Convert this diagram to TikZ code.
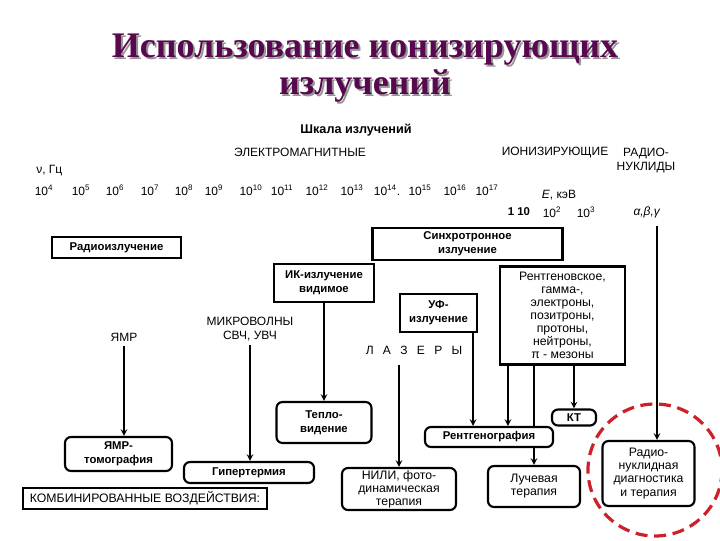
\documentclass[tikz,border=0pt]{standalone}
\usepackage{fontspec}
\setmainfont{Liberation Sans}
\newfontfamily\titlefont{Liberation Serif}
\usepackage{tikz}
\usetikzlibrary{arrows,shapes,positioning,calc,backgrounds}
\usepackage{xcolor}
\definecolor{ttlpurple}{RGB}{88,8,78}
\definecolor{ttlshade}{RGB}{150,150,150}
\definecolor{ringred}{RGB}{205,32,42}
\newcommand{\lblfont}{\fontsize{9}{10.5}\selectfont}
\newcommand{\boxfont}{\fontsize{8.5}{10.5}\selectfont\bfseries}
\newcommand{\plainboxfont}{\fontsize{9.2}{9.8}\selectfont}
\tikzstyle{ttl} = [font=\titlefont\bfseries\fontsize{27}{30}\selectfont, text=ttlpurple, anchor=base, inner sep=0pt]
\tikzstyle{lbl} = [inner sep=0pt, align=center, font=\lblfont]
\tikzstyle{sqbox} = [rectangle, draw, line width=1.6pt, fill=white, align=center, inner sep=0pt, font=\boxfont]
\tikzstyle{rbox} = [sqbox, rounded corners=4.5pt]
\tikzstyle{arrow} = [line width=1.2pt,->,>=stealth]

\begin{document}
\begin{tikzpicture}[x=0.75pt,y=-0.75pt]
\useasboundingbox (0,0) rectangle (720,540);
% Title with shadow
\node[ttl, text=ttlshade] (t1s) at (367,59) {Использование ионизирующих};
\node[ttl, text=ttlshade] (t2s) at (367,96) {излучений};
\node[ttl] (t1) at (365,57) {Использование ионизирующих};
\node[ttl] (t2) at (365,94) {излучений};

% Scale
\node[lbl, font=\fontsize{9.5}{11}\selectfont\bfseries] (scale) at (356,130) {Шкала излучений};
\node[lbl] (em) at (300,152) {ЭЛЕКТРОМАГНИТНЫЕ};
\node[lbl] (ion) at (555,152) {ИОНИЗИРУЮЩИЕ};
\node[lbl] (rnucl) at (646,160) {РАДИО-\\НУКЛИДЫ};
\node[lbl, anchor=west] (nu) at (36,171) {ν, Гц};
\foreach \p/\xx/\s in {4/44/{},5/81/{},6/115/{},7/150/{},8/184/{},9/214/{},10/251/{},11/282/{},12/317/{},13/352/{},14/387/.,15/420/{},16/455/{},17/487/{}}
  \node[lbl] (f\p) at (\xx,190) {10\textsuperscript{\p}\s};
\node[lbl] (ekev) at (559,195) {\textit{E}, кэВ};
\node[lbl, font=\boxfont] (e1) at (519,212) {1 10};
\node[lbl] (e2) at (552,212) {10\textsuperscript{2}};
\node[lbl] (e3) at (586,212) {10\textsuperscript{3}};
\node[lbl] (abg) at (647,212) {\textit{α,β,γ}};

% Spectrum boxes
\node[sqbox, minimum width=96.75pt, minimum height=15.75pt] (radio) at (116.5,247.5) {Радиоизлучение};
\node[sqbox, minimum width=142.5pt, minimum height=24pt] (synch) at (467.5,244) {Синхротронное\\излучение};
\node[sqbox, minimum width=75pt, minimum height=28.5pt] (ir) at (324,283) {ИК-излучение\\видимое};
\node[sqbox, minimum width=57.75pt, minimum height=28.5pt] (uv) at (438.5,313) {УФ-\\излучение};
\node[sqbox, minimum width=93.75pt, minimum height=73.5pt, font=\plainboxfont] (xray) at (562.5,315.5) {Рентгеновское,\\гамма-,\\электроны,\\позитроны,\\протоны,\\нейтроны,\\π - мезоны};
\node[lbl] (nmr) at (124,337) {ЯМР};
\node[lbl] (micro) at (250,329) {МИКРОВОЛНЫ\\СВЧ, УВЧ};
\node[lbl] (laser) at (414,350) {Л\hspace{7pt}А\hspace{7pt}З\hspace{7pt}Е\hspace{7pt}Р\hspace{7pt}Ы};
\coordinate (nuctop) at (657,226);

% Applications
\node[rbox, minimum width=80.25pt, minimum height=25.5pt] (nmrt) at (118.5,454) {ЯМР-\\томография};
\node[rbox, minimum width=97.5pt, minimum height=15.75pt] (hyper) at (249,472.5) {Гипертермия};
\node[rbox, minimum width=71.25pt, minimum height=30.75pt] (thermo) at (324,422.5) {Тепло-\\видение};
\node[rbox, minimum width=85.5pt, minimum height=31.5pt, font=\plainboxfont] (nili) at (399,489) {НИЛИ, фото-\\динамическая\\терапия};
\node[rbox, minimum width=96pt, minimum height=15pt] (xgraph) at (489,437) {Рентгенография};
\node[rbox, minimum width=33pt, minimum height=12pt] (ct) at (574,417.5) {КТ};
\node[rbox, minimum width=69pt, minimum height=30.75pt, font=\plainboxfont] (radther) at (534,486.5) {Лучевая\\терапия};
\node[rbox, minimum width=69pt, minimum height=48.75pt, font=\plainboxfont] (nucl) at (648.5,473.5) {Радио-\\нуклидная\\диагностика\\и терапия};
\node[sqbox, line width=0.9pt, minimum width=183pt, minimum height=15.75pt, font=\plainboxfont] (combo) at (145,498.5) {КОМБИНИРОВАННЫЕ ВОЗДЕЙСТВИЯ:};

% Connectors
\coordinate (nmrout) at ($(nmr.south)+(0,5)$);
\coordinate (microut) at ($(micro.south)+(0,4)$);
\coordinate (laserout) at ($(nili.north |- laser.south)+(0,10)$);
\coordinate (uvout) at ($(uv.south east)+(-5,0)$);
\coordinate (xrayout) at ($(xray.south west)+(9,0)$);
\draw[arrow] (nmrout) -- (nmrout |- nmrt.north);
\draw[arrow] (microut) -- (microut |- hyper.north);
\draw[arrow] (ir.south) -- (thermo.north);
\draw[arrow] (laserout) -- (nili.north);
\draw[arrow] (uvout) -- (uvout |- xgraph.north);
\draw[arrow] (xrayout) -- (xrayout |- xgraph.north);
\draw[arrow] (ct.north |- xray.south) -- (ct.north);
\begin{scope}[on background layer]
\draw[arrow] (radther.north |- xray.south) -- (radther.north);
\end{scope}
\draw[arrow] (nuctop) -- (nuctop |- nucl.north);

% Highlight ring
\draw[ringred, line width=2.4pt, dash pattern=on 9pt off 5pt] (655,470) ellipse (67 and 66);
\end{tikzpicture}
\end{document}
